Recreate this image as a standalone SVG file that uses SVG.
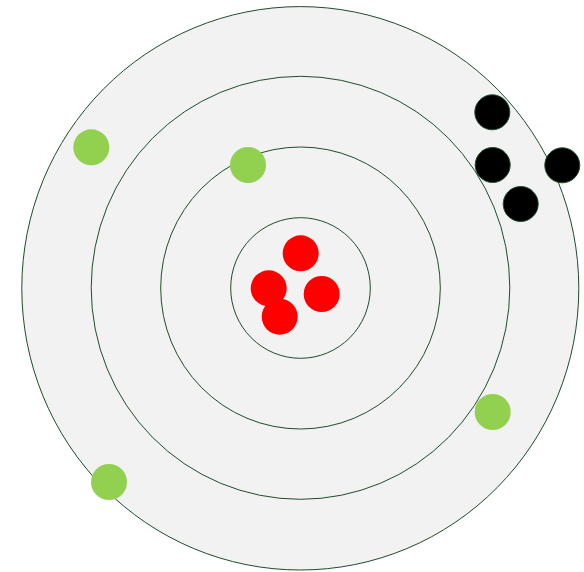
<svg xmlns="http://www.w3.org/2000/svg" width="584" height="572" viewBox="0 0 584 572">
<style>
.ring{fill:#f2f2f2;stroke:#1e4d2b;stroke-width:1}
.red{fill:#ff0000}
.green{fill:#92d050}
.black{fill:#000000;stroke:#1e4d2b;stroke-width:1}
</style>
<rect width="584" height="572" fill="#ffffff"/>
<g id="rings">
<ellipse id="ring4" class="ring" cx="300.3" cy="288.3" rx="278.5" ry="281.7"/>
<ellipse id="ring3" class="ring" cx="300.5" cy="287.8" rx="209.3" ry="211.5"/>
<ellipse id="ring2" class="ring" cx="300.5" cy="288" rx="139.8" ry="141"/>
<ellipse id="ring1" class="ring" cx="300.5" cy="288" rx="69.8" ry="70.3"/>
</g>
<g id="nucleus">
<circle class="red" cx="300.7" cy="253.3" r="18"/>
<circle class="red" cx="268.7" cy="288.3" r="18"/>
<circle class="red" cx="321.7" cy="294" r="18"/>
<circle class="red" cx="279.7" cy="316.7" r="18"/>
</g>
<g id="green-electrons">
<circle class="green" cx="91.3" cy="147.3" r="18"/>
<circle class="green" cx="248" cy="165" r="18"/>
<circle class="green" cx="492.7" cy="412" r="18"/>
<circle class="green" cx="109" cy="482" r="18"/>
</g>
<g id="black-electrons">
<circle class="black" cx="492.3" cy="112.3" r="17.5"/>
<circle class="black" cx="492.7" cy="165" r="17.5"/>
<circle class="black" cx="562.3" cy="165.3" r="17.5"/>
<circle class="black" cx="520.7" cy="204" r="17.5"/>
</g>
<g id="connectors"></g>
</svg>
